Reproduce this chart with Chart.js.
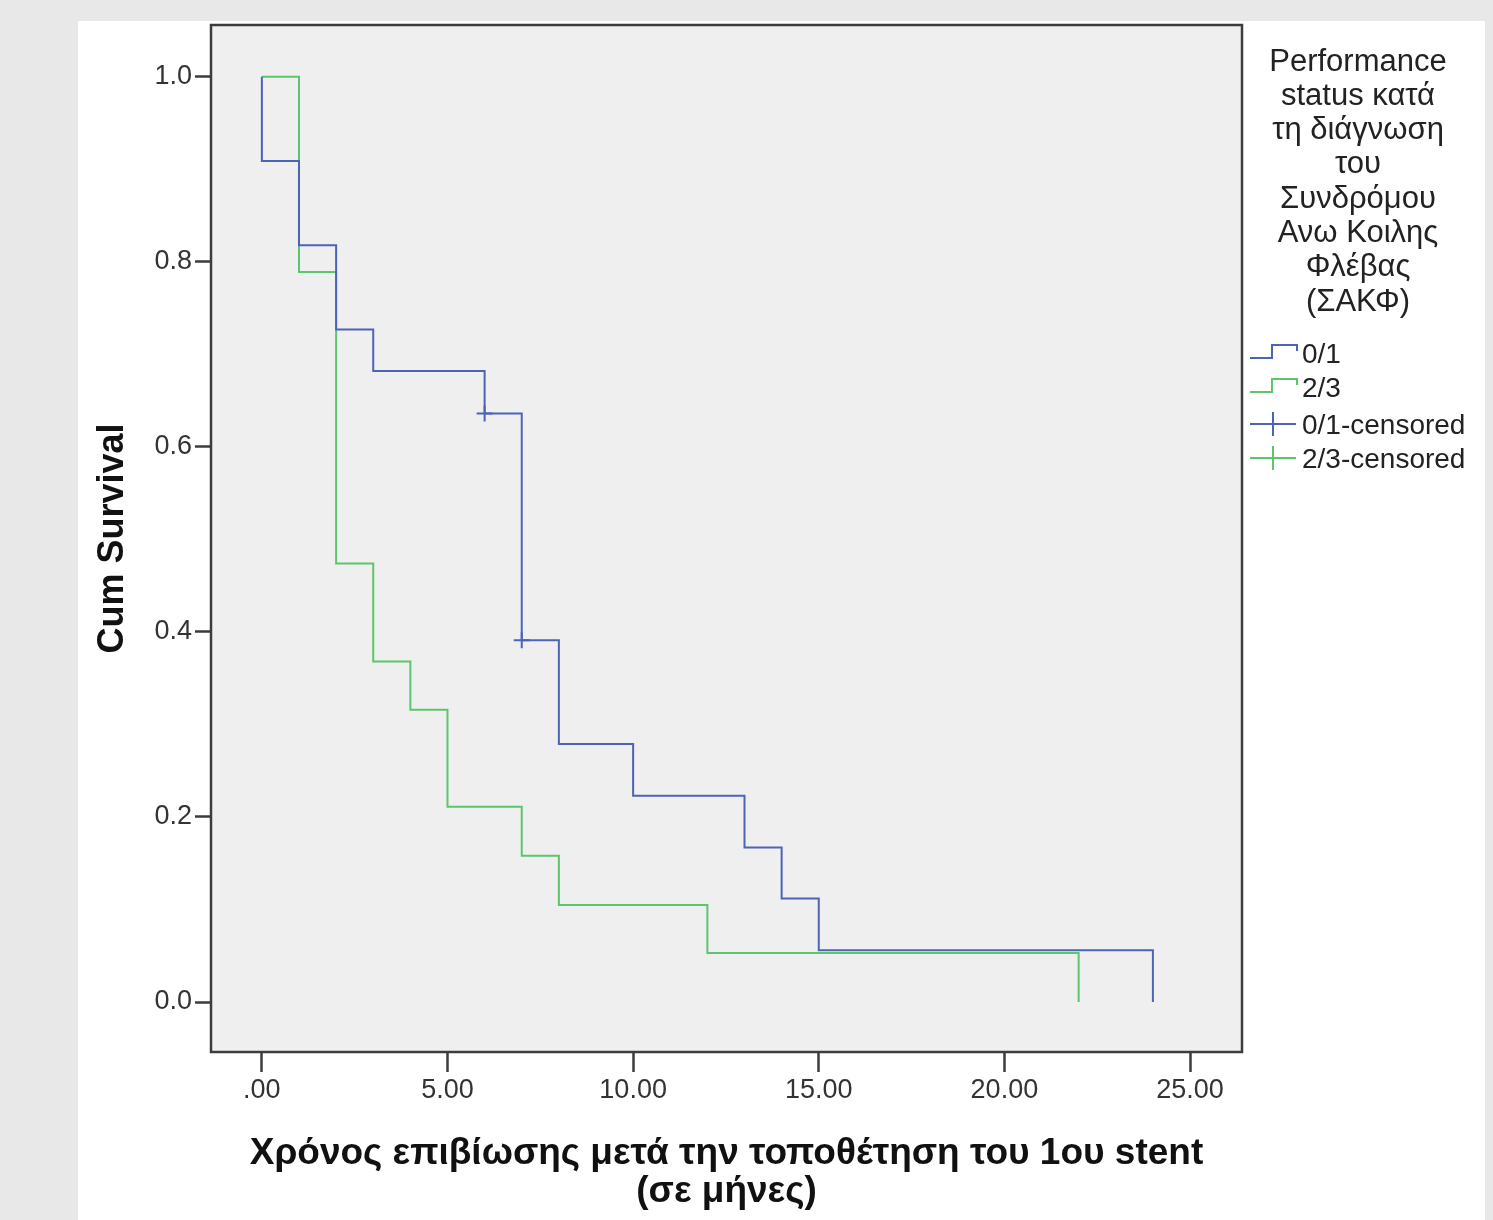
<!DOCTYPE html>
<html>
<head>
<meta charset="utf-8">
<script src="https://cdn.jsdelivr.net/npm/chart.js@4.4.0/dist/chart.umd.min.js"></script>
<style>
  html, body { margin: 0; padding: 0; background: #e8e8e8; }
  #wrap { position: absolute; left: 0; top: 0; width: 1493px; height: 1220px; }
</style>
</head>
<body>
<div id="wrap"><canvas id="km" width="1493" height="1220"></canvas></div>
<script>
// Kaplan-Meier steps (time in months, cumulative survival)
const times01 = [0, 0, 1, 2, 3, 6, 7, 8, 10, 13, 14, 15, 24];
const surv01 = [1, 0.909, 0.818, 0.727, 0.682, 0.636, 0.391, 0.279, 0.223, 0.167, 0.112, 0.056, 0];
const times23 = [0, 1, 2, 3, 4, 5, 7, 8, 12, 22];
const surv23 = [1, 0.789, 0.474, 0.368, 0.316, 0.211, 0.158, 0.105, 0.053, 0];
// censored observations (only group 0/1 has visible ones)
const cens01Times = [6, 7];
const cens01Surv = [0.636, 0.391];

const yTicks = [0, 0.2, 0.4, 0.6, 0.8, 1.0];
const yTickLabels = ['0.0', '0.2', '0.4', '0.6', '0.8', '1.0'];
const xTicks = [0, 5, 10, 15, 20, 25];
const xTickLabels = ['.00', '5.00', '10.00', '15.00', '20.00', '25.00'];

const legendTitle = ['Performance', 'status κατά', 'τη διάγνωση', 'του', 'Συνδρόμου', 'Ανω Κοιλης', 'Φλέβας', '(ΣΑΚΦ)'];
const seriesNames = ['0/1', '2/3', '0/1-censored', '2/3-censored'];

const blue = '#4c63b8';
const green = '#5cc66c';
const FONT = '"Liberation Sans", Arial, sans-serif';

function toPoints(xs, ys) {
    return xs.map((x, i) => ({ x: x, y: ys[i] }));
}

// background, plot box and the SPSS-style legend
const spssLook = {
    id: 'spssLook',
    beforeDraw(chart) {
        const ctx = chart.ctx;
        const a = chart.chartArea;
        ctx.save();
        ctx.fillStyle = '#e8e8e8';
        ctx.fillRect(0, 0, chart.width, chart.height);
        ctx.fillStyle = '#ffffff';
        ctx.fillRect(78, 21, 1407, chart.height - 21);
        ctx.fillStyle = '#efefef';
        ctx.fillRect(a.left, a.top, a.right - a.left, a.bottom - a.top);
        ctx.restore();
    },
    afterDraw(chart) {
        const ctx = chart.ctx;
        const a = chart.chartArea;
        ctx.save();
        ctx.strokeStyle = '#3c3c3c';
        ctx.lineWidth = 2.5;
        ctx.strokeRect(a.left, a.top, a.right - a.left, a.bottom - a.top);

        // legend title
        ctx.fillStyle = '#222';
        ctx.font = '31px ' + FONT;
        ctx.textAlign = 'center';
        ctx.textBaseline = 'middle';
        legendTitle.forEach((t, i) => ctx.fillText(t, 1358, 62 + i * 34.3));

        // legend items
        ctx.font = '28px ' + FONT;
        ctx.textAlign = 'left';
        const rowsY = [355, 389, 426, 460];
        const cols = [blue, green, blue, green];
        ctx.lineWidth = 2;
        rowsY.forEach((y, i) => {
            ctx.strokeStyle = cols[i];
            ctx.beginPath();
            if (i < 2) {
                ctx.moveTo(1250, y + 3);
                ctx.lineTo(1272, y + 3);
                ctx.lineTo(1272, y - 10);
                ctx.lineTo(1297, y - 10);
                ctx.lineTo(1297, y - 4);
            } else {
                ctx.moveTo(1250, y - 2);
                ctx.lineTo(1296, y - 2);
                ctx.moveTo(1273, y - 14);
                ctx.lineTo(1273, y + 10);
            }
            ctx.stroke();
            ctx.fillStyle = '#222';
            ctx.fillText(seriesNames[i], 1302, y);
        });
        ctx.restore();
    }
};

new Chart(document.getElementById('km').getContext('2d'), {
    type: 'line',
    data: {
        datasets: [
            {
                label: seriesNames[0],
                data: toPoints(times01, surv01),
                borderColor: blue,
                borderWidth: 2,
                stepped: true,
                pointRadius: 0,
                fill: false
            },
            {
                label: seriesNames[1],
                data: toPoints(times23, surv23),
                borderColor: green,
                borderWidth: 2,
                stepped: true,
                pointRadius: 0,
                fill: false
            },
            {
                label: seriesNames[2],
                type: 'scatter',
                data: toPoints(cens01Times, cens01Surv),
                pointStyle: 'cross',
                pointRadius: 8,
                borderColor: blue,
                borderWidth: 2,
                showLine: false
            }
        ]
    },
    options: {
        responsive: false,
        animation: false,
        layout: { padding: { left: 90, top: 25, right: 251, bottom: 0 } },
        plugins: {
            legend: { display: false },
            tooltip: { enabled: false }
        },
        scales: {
            x: {
                type: 'linear',
                min: -1.37,
                max: 26.4,
                afterBuildTicks: s => { s.ticks = xTicks.map(v => ({ value: v })); },
                afterFit: s => { s.height = 168; },
                ticks: {
                    callback: (v, i) => xTickLabels[i],
                    font: { size: 27, family: FONT },
                    color: '#333',
                    padding: 2,
                    maxRotation: 0
                },
                grid: {
                    drawOnChartArea: false,
                    drawTicks: true,
                    tickLength: 20,
                    tickColor: '#3c3c3c',
                    tickWidth: 2.5
                },
                border: { display: false },
                title: {
                    display: true,
                    text: ['Χρόνος επιβίωσης μετά την τοποθέτηση του 1ου stent', '(σε μήνες)'],
                    font: { size: 37, weight: 'bold', family: FONT, lineHeight: 1.03 },
                    color: '#111',
                    padding: { top: 0, bottom: 9 }
                }
            },
            y: {
                type: 'linear',
                min: -0.054,
                max: 1.056,
                afterBuildTicks: s => { s.ticks = yTicks.map(v => ({ value: v })); },
                afterFit: s => { s.width = 121; },
                ticks: {
                    callback: (v, i) => yTickLabels[i],
                    font: { size: 27, family: FONT },
                    color: '#333',
                    padding: 3
                },
                grid: {
                    drawOnChartArea: false,
                    drawTicks: true,
                    tickLength: 16,
                    tickColor: '#3c3c3c',
                    tickWidth: 2.5
                },
                border: { display: false },
                title: {
                    display: true,
                    text: 'Cum Survival',
                    font: { size: 36, weight: 'bold', family: FONT },
                    color: '#111',
                    padding: { top: 1, bottom: 0 }
                }
            }
        }
    },
    plugins: [spssLook]
});
</script>
</body>
</html>
